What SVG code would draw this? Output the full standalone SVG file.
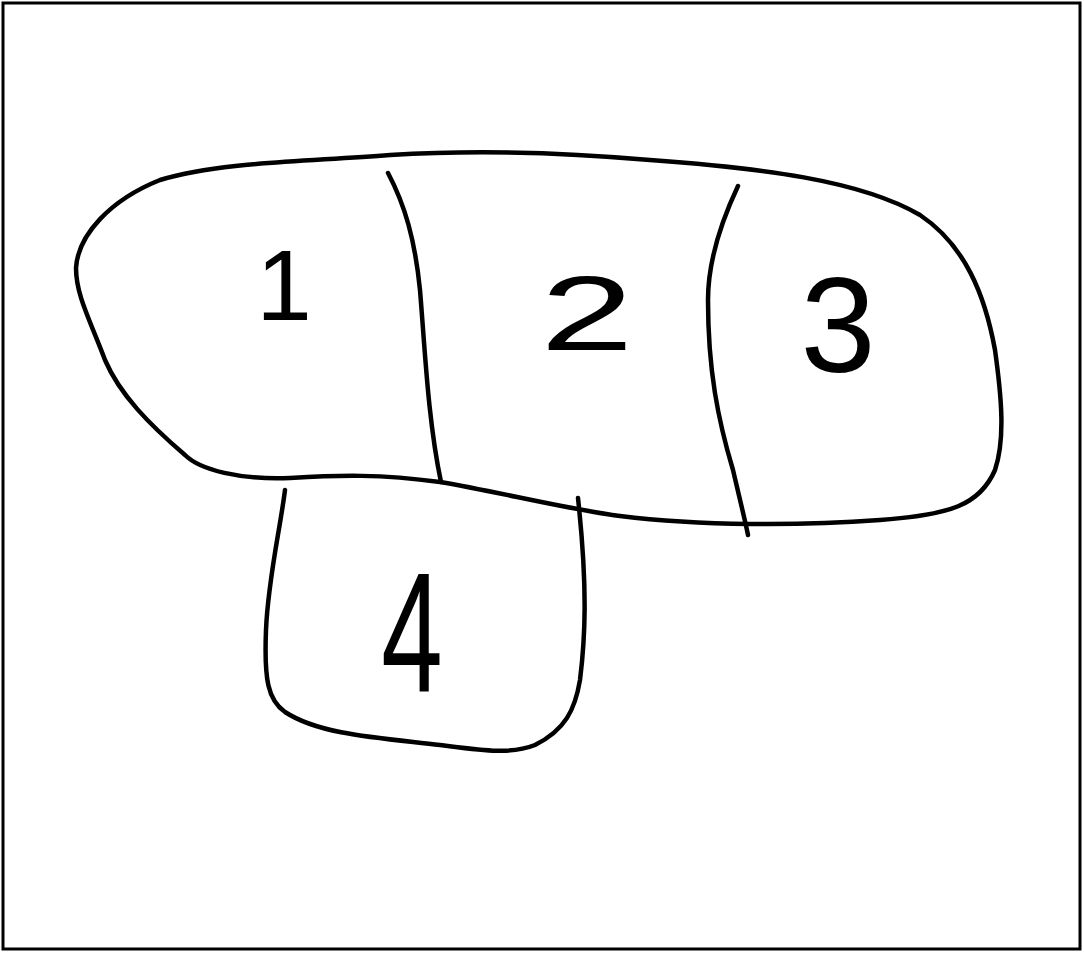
<svg xmlns="http://www.w3.org/2000/svg" width="1084" height="953" viewBox="0 0 1084 953">
<style>
.ln{fill:none;stroke:#000;stroke-width:4.5;stroke-linecap:round;stroke-linejoin:round}
.lbl{font-family:"Liberation Sans",Arial,sans-serif;fill:#000;text-anchor:middle}
</style>
<rect x="0" y="0" width="1084" height="953" fill="#fff"/>
<rect x="3" y="3" width="1077" height="946" fill="none" stroke="#000" stroke-width="3"/>
<g id="region-outline">
<path class="ln" d="M76,268 C78,235 110,200 160,180 C220,162 300,162 390,155 C470,150 560,152 650,160 C760,168 860,180 920,215 C965,245 985,295 995,350 C1002,400 1005,440 995,470 C980,505 950,515 880,520 C800,526 700,526 620,516 C560,508 500,492 440,482 C380,474 340,475 290,478 C240,480 200,470 185,455 C150,425 120,395 105,360 C90,320 76,295 76,268 Z"/>
</g>
<g id="divider-1-2">
<path class="ln" d="M388,173 C405,205 415,240 420,290 C425,350 428,420 441,482"/>
</g>
<g id="divider-2-3">
<path class="ln" d="M738,186 C722,220 708,260 708,300 C708,370 718,420 733,470 C740,500 745,520 748,535"/>
</g>
<g id="region-4">
<path class="ln" d="M285,490 C280,530 268,580 266,630 C264,680 268,700 285,712 C320,735 380,738 440,745 C480,750 510,755 535,745 C565,730 575,710 580,680 C585,640 588,590 578,498"/>
</g>
<g id="labels">
<text class="lbl" x="284" y="320" font-size="100">1</text>
<text class="lbl" x="587" y="350" font-size="105" transform="translate(587 0) scale(1.6 1) translate(-587 0)">2</text>
<text class="lbl" x="838" y="372" font-size="135">3</text>
<text class="lbl" x="412" y="692" font-size="170" transform="translate(412 0) scale(0.65 1) translate(-412 0)">4</text>
</g>
</svg>
